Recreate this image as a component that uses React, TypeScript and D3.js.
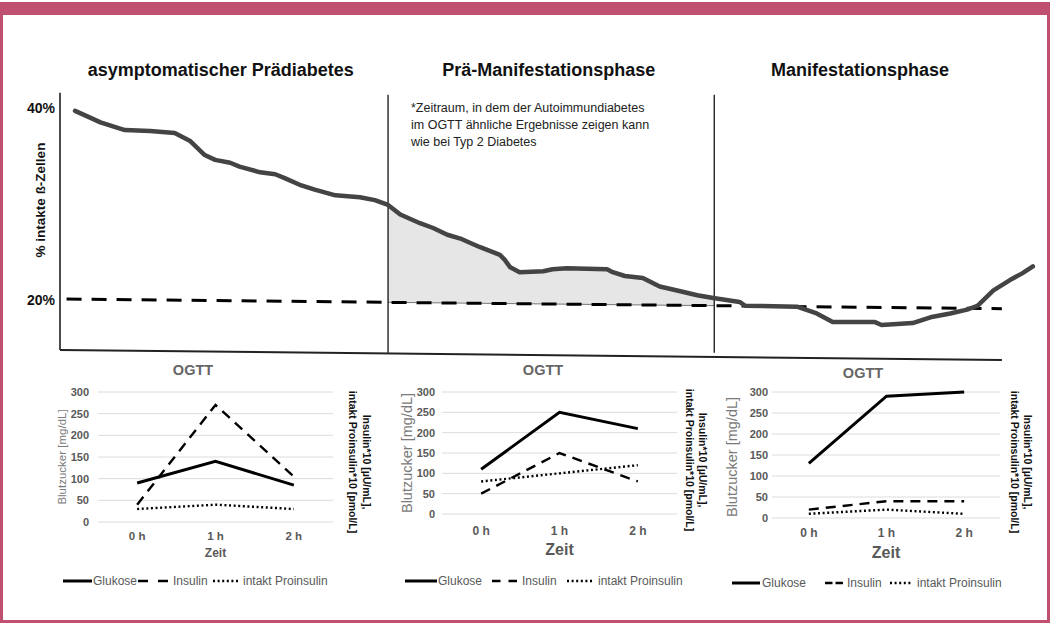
import React from "react";
import * as d3 from "d3";

// ---------- Main chart data ----------
const betaTime = [1.6, 3.2, 4.3, 6.9, 9.6, 12.2, 13.8, 15.4, 16.5, 18.1, 19.1, 21.3, 22.9, 23.9, 25.5, 27.1, 29.3, 31.9, 33.5, 34.9, 36.2, 38.3, 39.7, 41.2, 42.6, 43.3, 44.7, 46.8, 47.3, 47.9, 48.9, 51.4, 52.4, 53.9, 58.2, 58.8, 60.1, 62.0, 63.8, 65.2, 67.8, 69.5, 72.3, 72.9, 78.4, 80.5, 82.2, 86.7, 87.4, 90.7, 92.6, 94.7, 96.5, 97.6, 99.3, 101.1, 102.4, 103.5];
const betaPct = [39.7, 39.0, 38.5, 37.7, 37.6, 37.4, 36.6, 35.1, 34.6, 34.3, 33.9, 33.3, 33.1, 32.7, 32.0, 31.5, 30.9, 30.7, 30.4, 29.9, 28.9, 28.0, 27.5, 26.8, 26.4, 26.1, 25.5, 24.7, 24.2, 23.4, 22.9, 23.0, 23.2, 23.3, 23.2, 22.9, 22.5, 22.3, 21.4, 21.1, 20.5, 20.2, 19.8, 19.4, 19.3, 18.6, 17.7, 17.7, 17.4, 17.6, 18.2, 18.6, 19.0, 19.4, 21.0, 22.1, 22.8, 23.5];
const thresholdTime = [0.7, 100.2];
const thresholdPct = [20.1, 19.1];
const baseTime = [0, 100.2];
const basePct = [14.8, 13.75];
const phaseBounds = [34.9, 69.6];
const phaseTop = 41.6;
const phaseBottom = 14.5;
const phaseLabels = ["asymptomatischer Prädiabetes", "Prä-Manifestationsphase", "Manifestationsphase"];
const phaseCenters = [17.1, 52.0, 85.1];
const mainTickValues = [40, 20];
const mainTickLabels = ["40%", "20%"];
const noteLines = [
  "*Zeitraum, in dem der Autoimmundiabetes",
  "im OGTT ähnliche Ergebnisse zeigen kann",
  "wie bei Typ 2 Diabetes",
];

// ---------- OGTT data ----------
const ogttTimes = ["0 h", "1 h", "2 h"];
const ogttTicks = [0, 50, 100, 150, 200, 250, 300];
const glukose1 = [90, 140, 85];
const insulin1 = [40, 270, 105];
const proinsulin1 = [30, 40, 30];
const glukose2 = [110, 250, 210];
const insulin2 = [50, 150, 80];
const proinsulin2 = [80, 100, 120];
const glukose3 = [130, 290, 300];
const insulin3 = [20, 40, 40];
const proinsulin3 = [10, 20, 10];
const seriesNames = ["Glukose", "Insulin", "intakt Proinsulin"];

const FONT = "'Liberation Sans', Arial, Helvetica, sans-serif";
const GRAY = "#595959";
const PINK = "#c0506f";

const seriesStyle = [
  { width: 3, dash: undefined as string | undefined },
  { width: 2.4, dash: "10,7" as string | undefined },
  { width: 2.4, dash: "2,2.6" as string | undefined },
];

type Layout = {
  plotLeft: number; plotRight: number; gridLeft: number; gridRight: number;
  yTop: number; yBottom: number; tickX: number;
  titleX: number; titleY: number; xLabelY: number; xLabelSize: number;
  zeitY: number; zeitSize: number;
  yTitleX: number; yTitleY: number; yTitleSize: number;
  rightX1: number; rightX2: number; rightY: number;
  legendY: number; legend: number[][]; legendDash: string;
};

const layouts: Layout[] = [
  { plotLeft: 98, plotRight: 333, gridLeft: 98, gridRight: 333, yTop: 392, yBottom: 522, tickX: 89,
    titleX: 193, titleY: 375, xLabelY: 540, xLabelSize: 11.5, zeitY: 557, zeitSize: 12,
    yTitleX: 62, yTitleY: 457, yTitleSize: 11.5, rightX1: 367, rightX2: 353, rightY: 462,
    legendY: 581, legend: [[63, 92, 93], [138, 168, 173], [213, 238, 243]], legendDash: "10,10" },
  { plotLeft: 442, plotRight: 677, gridLeft: 442, gridRight: 677, yTop: 392, yBottom: 514, tickX: 435,
    titleX: 543, titleY: 375, xLabelY: 535, xLabelSize: 12, zeitY: 555, zeitSize: 16,
    yTitleX: 407, yTitleY: 453, yTitleSize: 14.5, rightX1: 703, rightX2: 690, rightY: 460,
    legendY: 581, legend: [[405, 437, 438], [492, 517, 522], [567, 593, 598]], legendDash: "8.5,8" },
  { plotLeft: 770, plotRight: 1003, gridLeft: 772, gridRight: 1000, yTop: 392, yBottom: 518, tickX: 768,
    titleX: 863, titleY: 378, xLabelY: 537, xLabelSize: 12, zeitY: 558, zeitSize: 16,
    yTitleX: 732, yTitleY: 457, yTitleSize: 14.5, rightX1: 1028, rightX2: 1015, rightY: 462,
    legendY: 583, legend: [[732, 760, 762], [825, 843, 847], [890, 912, 917]], legendDash: "7.5,3" },
];

const chartData = [
  [glukose1, insulin1, proinsulin1],
  [glukose2, insulin2, proinsulin2],
  [glukose3, insulin3, proinsulin3],
];

function SmallChart({ L, series }: { L: Layout; series: number[][] }) {
  const x = d3.scalePoint<string>().domain(ogttTimes).range([L.plotLeft, L.plotRight]).padding(0.5);
  const y = d3.scaleLinear().domain([0, 300]).range([L.yBottom, L.yTop]);
  const line = d3.line<number>().x((_, i) => x(ogttTimes[i]) as number).y((d) => y(d));
  return (
    <g fontFamily={FONT}>
      <text x={L.titleX} y={L.titleY} textAnchor="middle" fontSize={14.5} fontWeight="bold" fill="#666">OGTT</text>
      {ogttTicks.map((t) => (
        <g key={t}>
          <line x1={L.gridLeft} x2={L.gridRight} y1={y(t)} y2={y(t)} stroke="#dcdcdc" strokeWidth={1} />
          <text x={L.tickX} y={y(t) + 4} textAnchor="end" fontSize={11} fontWeight="bold" fill={GRAY}>{t}</text>
        </g>
      ))}
      {ogttTimes.map((c) => (
        <text key={c} x={x(c)} y={L.xLabelY} textAnchor="middle" fontSize={L.xLabelSize} fontWeight="bold" fill={GRAY}>{c}</text>
      ))}
      <text x={(L.gridLeft + L.gridRight) / 2} y={L.zeitY} textAnchor="middle" fontSize={L.zeitSize} fontWeight="bold" fill={GRAY}>Zeit</text>
      <text transform={`translate(${L.yTitleX},${L.yTitleY}) rotate(-90)`} textAnchor="middle" dominantBaseline="central" fontSize={L.yTitleSize} fill="#7a7a7a">Blutzucker [mg/dL]</text>
      <text transform={`translate(${L.rightX1},${L.rightY}) rotate(90)`} textAnchor="middle" dominantBaseline="central" fontSize={10.5} fontWeight="bold" fill="#111">Insulin*10 [µU/mL],</text>
      <text transform={`translate(${L.rightX2},${L.rightY}) rotate(90)`} textAnchor="middle" dominantBaseline="central" fontSize={10.5} fontWeight="bold" fill="#111">intakt Proinsulin*10 [pmol/L]</text>
      {series.map((s, i) => (
        <path key={i} d={line(s) || ""} fill="none" stroke="#000" strokeWidth={seriesStyle[i].width}
          strokeDasharray={seriesStyle[i].dash} strokeLinejoin="miter" />
      ))}
      {seriesNames.map((n, i) => (
        <g key={n}>
          <line x1={L.legend[i][0]} x2={L.legend[i][1]} y1={L.legendY} y2={L.legendY} stroke="#000"
            strokeWidth={seriesStyle[i].width} strokeDasharray={i === 1 ? L.legendDash : seriesStyle[i].dash} />
          <text x={L.legend[i][2]} y={L.legendY + 4} fontSize={12} fill={GRAY}>{n}</text>
        </g>
      ))}
    </g>
  );
}

export default function App() {
  const xs = d3.scaleLinear().domain([0, 100]).range([60, 1000]);
  const ys = d3.scaleLinear().domain([20, 40]).range([300, 108]);
  const thr = d3.scaleLinear().domain(thresholdTime).range(thresholdPct);
  const base = d3.scaleLinear().domain(baseTime).range(basePct);

  const pts = betaTime.map((t, i) => [t, betaPct[i]] as [number, number]);
  const curve = d3.line<[number, number]>().x((d) => xs(d[0])).y((d) => ys(d[1]));

  const inner = pts.filter((p) => p[0] > phaseBounds[0] && p[0] < phaseBounds[1]);
  const interp = (t: number) => {
    for (let i = 0; i < pts.length - 1; i++) {
      if (pts[i][0] <= t && pts[i + 1][0] >= t) {
        const f = (t - pts[i][0]) / (pts[i + 1][0] - pts[i][0]);
        return pts[i][1] + f * (pts[i + 1][1] - pts[i][1]);
      }
    }
    return pts[0][1];
  };
  const areaPts: [number, number][] = [
    [phaseBounds[0], interp(phaseBounds[0])],
    ...inner,
    [phaseBounds[1], interp(phaseBounds[1])],
  ];
  const area = d3.area<[number, number]>()
    .x((d) => xs(d[0]))
    .y0((d) => ys(thr(d[0])))
    .y1((d) => ys(d[1]));

  const thrLine = d3.line<number>().x((t) => xs(t)).y((t) => ys(thr(t)));
  const baseLine = d3.line<number>().x((t) => xs(t)).y((t) => ys(base(t)));

  return (
    <svg width={1053} height={634} style={{ position: "absolute", left: 0, top: 0, background: "#fff" }}>
      <rect x={0} y={2} width={1050} height={13} fill={PINK} />
      <rect x={0} y={2} width={3} height={621} fill={PINK} />
      <rect x={1047} y={2} width={3} height={621} fill={PINK} />
      <rect x={0} y={620} width={1050} height={3} fill={PINK} />

      <g fontFamily={FONT}>
        {phaseLabels.map((l, i) => (
          <text key={l} x={xs(phaseCenters[i])} y={76} textAnchor="middle" fontSize={18} fontWeight="bold" fill="#111">{l}</text>
        ))}
        {mainTickValues.map((v, i) => (
          <text key={v} x={55} y={ys(v) + 5} textAnchor="end" fontSize={14} fontWeight="bold" fill="#111">{mainTickLabels[i]}</text>
        ))}
        <text transform={`translate(40,200) rotate(-90)`} textAnchor="middle" dominantBaseline="central" fontSize={13.5} fontWeight="bold" fill="#111">% intakte ß-Zellen</text>
        {noteLines.map((l, i) => (
          <text key={i} x={411} y={112 + i * 17} fontSize={12.5} fill="#222">{l}</text>
        ))}
      </g>

      <path d={area(areaPts) || ""} fill="#e6e6e6" stroke="none" />
      <path d={thrLine([phaseBounds[0], phaseBounds[1]]) || ""} stroke="#777" strokeWidth={1} fill="none" />

      <line x1={xs(0)} x2={xs(0)} y1={ys(phaseTop)} y2={ys(base(0))} stroke="#111" strokeWidth={1.5} />
      <path d={baseLine(baseTime) || ""} stroke="#222" strokeWidth={2} fill="none" />
      {phaseBounds.map((b) => (
        <line key={b} x1={xs(b)} x2={xs(b)} y1={ys(phaseTop) + 2} y2={ys(phaseBottom)} stroke="#111" strokeWidth={1.3} />
      ))}

      <path d={thrLine(thresholdTime) || ""} stroke="#000" strokeWidth={3} strokeDasharray="15,10" fill="none" />
      <path d={curve(pts) || ""} stroke="#444" strokeWidth={4.5} fill="none" strokeLinejoin="round" strokeLinecap="round" />

      {layouts.map((L, i) => (
        <SmallChart key={i} L={L} series={chartData[i]} />
      ))}
    </svg>
  );
}
